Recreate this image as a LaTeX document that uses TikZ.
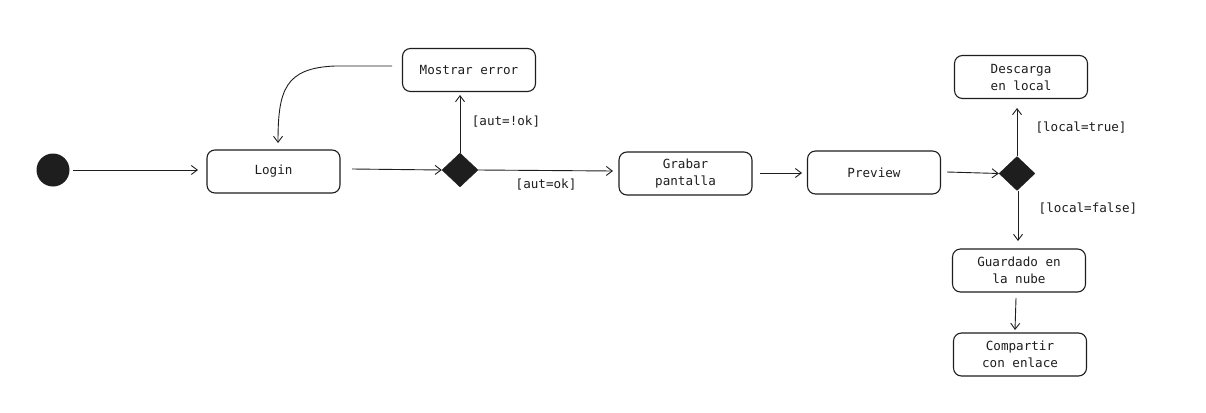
\documentclass[tikz,border=0pt]{standalone}
\usepackage{fontspec}
\setmonofont{DejaVu Sans Mono}
\usetikzlibrary{arrows.meta,shapes.geometric}
\definecolor{ink}{HTML}{1E1E1E}
\tikzset{
  act/.style={draw=ink, line width=1.1pt, rounded corners=8pt, minimum width=133pt, minimum height=43pt, align=center, font=\ttfamily\fontsize{12.6}{17}\selectfont, text=ink},
  dec/.style={diamond, fill=ink, draw=ink, minimum width=36pt, minimum height=34pt, inner sep=0pt, aspect=1.06},
  flow/.style={draw=ink, line width=0.9pt, -{Straight Barb[length=6pt,width=9pt,line width=0.9pt]}},
  guard/.style={font=\ttfamily\fontsize{12.6}{15}\selectfont, text=ink},
}
\begin{document}
\begin{tikzpicture}[x=1pt,y=-1pt]
\useasboundingbox[fill=white] (0,0) rectangle (1206,412);
\node[circle, fill=ink, minimum size=33pt, inner sep=0pt] (start) at (53,170) {};
\node[act] (login) at (273.5,171.5) {Login};
\node[dec] (d1) at (460,170) {};
\node[act] (err) at (469,70) {Mostrar error};
\node[act] (grab) at (685.5,173.5) {Grabar\\pantalla};
\node[act] (prev) at (874,172.5) {Preview};
\node[dec] (d2) at (1017,173.5) {};
\node[act] (desc) at (1021,77) {Descarga\\en local};
\node[act] (guard) at (1019,270.5) {Guardado en\\la nube};
\node[act] (comp) at (1020,354.5) {Compartir\\con enlace};

\coordinate (s1) at (73,170);
\coordinate (e1) at (198,170);
\draw[flow] (s1) -- (e1);
\coordinate (s2) at (352,169);
\draw[flow] (s2) -- (d1.west);
\coordinate (e3) at (460,95);
\draw[flow] (d1.north) -- (e3);
\node[guard] (g1) at (506,122) {[aut=!ok]};
\coordinate (s4) at (392,66);
\coordinate (e4) at (278,143);
\draw[flow] (s4) -- (335,66) .. controls (285,68) and (278,90) .. (e4);
\coordinate (e5) at (613,171);
\draw[flow] (d1.east) -- (e5);
\node[guard] (g2) at (546,185) {[aut=ok]};
\coordinate (s6) at (760,173);
\coordinate (e6) at (802,173);
\draw[flow] (s6) -- (e6);
\coordinate (s7) at (947,172);
\draw[flow] (s7) -- (d2.west);
\coordinate (e8) at (1017,108);
\draw[flow] (d2.north) -- (e8);
\node[guard] (g3) at (1081,128) {[local=true]};
\coordinate (s9) at (1018,191);
\coordinate (e9) at (1018,241);
\draw[flow] (s9) -- (e9);
\node[guard] (g4) at (1088,209) {[local=false]};
\coordinate (s10) at (1016,298);
\coordinate (e10) at (1015,330);
\draw[flow] (s10) -- (e10);
\end{tikzpicture}
\end{document}
